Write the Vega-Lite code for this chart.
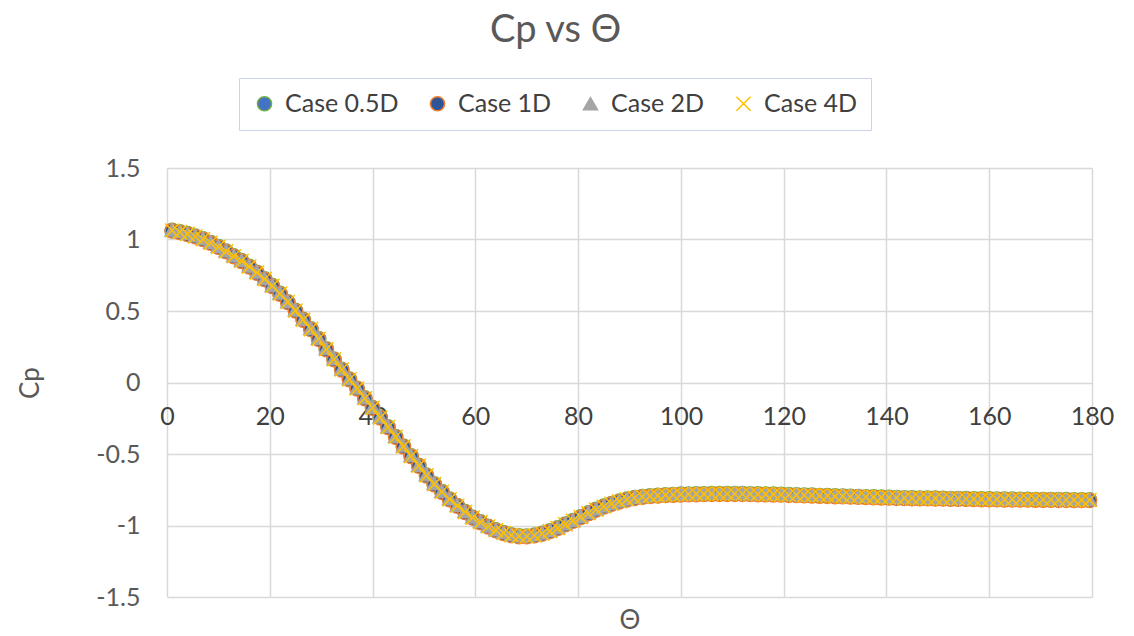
{
  "$schema": "https://vega.github.io/schema/vega-lite/v6.json",
  "width": 925,
  "height": 429,
  "autosize": "none",
  "padding": {"left": 167, "top": 168, "right": 42, "bottom": 39},
  "background": "white",
  "title": {"text": "Cp vs Θ", "fontSize": 38, "font": "Lato", "fontWeight": "normal", "color": "#595959", "anchor": "middle", "frame": "group", "dx": -74, "offset": -2, "baseline": "alphabetic"},
  "data": {"values": [
    {"t":1,"a":1.065,"b":1.06,"c":1.068,"d":1.063},
    {"t":2.5,"a":1.054,"b":1.049,"c":1.057,"d":1.052},
    {"t":4,"a":1.041,"b":1.036,"c":1.044,"d":1.039},
    {"t":5.5,"a":1.024,"b":1.019,"c":1.027,"d":1.022},
    {"t":7,"a":1.005,"b":1.0,"c":1.008,"d":1.003},
    {"t":8.5,"a":0.979,"b":0.974,"c":0.982,"d":0.977},
    {"t":10,"a":0.951,"b":0.946,"c":0.954,"d":0.949},
    {"t":11.5,"a":0.919,"b":0.914,"c":0.922,"d":0.917},
    {"t":13,"a":0.885,"b":0.88,"c":0.888,"d":0.883},
    {"t":14.5,"a":0.852,"b":0.847,"c":0.855,"d":0.85},
    {"t":16,"a":0.813,"b":0.808,"c":0.816,"d":0.811},
    {"t":17.5,"a":0.77,"b":0.765,"c":0.773,"d":0.768},
    {"t":19,"a":0.725,"b":0.72,"c":0.728,"d":0.723},
    {"t":20.5,"a":0.677,"b":0.672,"c":0.68,"d":0.675},
    {"t":22,"a":0.623,"b":0.618,"c":0.626,"d":0.621},
    {"t":23.5,"a":0.565,"b":0.56,"c":0.568,"d":0.563},
    {"t":25,"a":0.505,"b":0.5,"c":0.508,"d":0.503},
    {"t":26.5,"a":0.441,"b":0.436,"c":0.444,"d":0.439},
    {"t":28,"a":0.375,"b":0.37,"c":0.378,"d":0.373},
    {"t":29.5,"a":0.307,"b":0.302,"c":0.31,"d":0.305},
    {"t":31,"a":0.235,"b":0.23,"c":0.238,"d":0.233},
    {"t":32.5,"a":0.164,"b":0.159,"c":0.167,"d":0.162},
    {"t":34,"a":0.093,"b":0.088,"c":0.096,"d":0.091},
    {"t":35.5,"a":0.024,"b":0.019,"c":0.027,"d":0.022},
    {"t":37,"a":-0.04,"b":-0.045,"c":-0.037,"d":-0.042},
    {"t":38.5,"a":-0.108,"b":-0.113,"c":-0.105,"d":-0.11},
    {"t":40,"a":-0.175,"b":-0.18,"c":-0.172,"d":-0.177},
    {"t":41.5,"a":-0.243,"b":-0.248,"c":-0.24,"d":-0.245},
    {"t":43,"a":-0.31,"b":-0.315,"c":-0.307,"d":-0.312},
    {"t":44.5,"a":-0.378,"b":-0.383,"c":-0.375,"d":-0.38},
    {"t":46,"a":-0.445,"b":-0.45,"c":-0.442,"d":-0.447},
    {"t":47.5,"a":-0.513,"b":-0.518,"c":-0.51,"d":-0.515},
    {"t":49,"a":-0.58,"b":-0.585,"c":-0.577,"d":-0.582},
    {"t":50.5,"a":-0.648,"b":-0.653,"c":-0.645,"d":-0.65},
    {"t":52,"a":-0.709,"b":-0.714,"c":-0.706,"d":-0.711},
    {"t":53.5,"a":-0.763,"b":-0.768,"c":-0.76,"d":-0.765},
    {"t":55,"a":-0.815,"b":-0.82,"c":-0.812,"d":-0.817},
    {"t":56.5,"a":-0.86,"b":-0.865,"c":-0.857,"d":-0.862},
    {"t":58,"a":-0.903,"b":-0.908,"c":-0.9,"d":-0.905},
    {"t":59.5,"a":-0.943,"b":-0.948,"c":-0.94,"d":-0.945},
    {"t":61,"a":-0.975,"b":-0.98,"c":-0.972,"d":-0.977},
    {"t":62.5,"a":-1.005,"b":-1.01,"c":-1.002,"d":-1.007},
    {"t":64,"a":-1.031,"b":-1.036,"c":-1.028,"d":-1.033},
    {"t":65.5,"a":-1.05,"b":-1.055,"c":-1.047,"d":-1.052},
    {"t":67,"a":-1.065,"b":-1.07,"c":-1.062,"d":-1.067},
    {"t":68.5,"a":-1.073,"b":-1.078,"c":-1.07,"d":-1.075},
    {"t":70,"a":-1.074,"b":-1.079,"c":-1.071,"d":-1.076},
    {"t":71.5,"a":-1.067,"b":-1.072,"c":-1.064,"d":-1.069},
    {"t":73,"a":-1.055,"b":-1.06,"c":-1.052,"d":-1.057},
    {"t":74.5,"a":-1.037,"b":-1.042,"c":-1.034,"d":-1.039},
    {"t":76,"a":-1.016,"b":-1.021,"c":-1.013,"d":-1.018},
    {"t":77.5,"a":-0.99,"b":-0.995,"c":-0.987,"d":-0.992},
    {"t":79,"a":-0.965,"b":-0.97,"c":-0.962,"d":-0.967},
    {"t":80.5,"a":-0.939,"b":-0.944,"c":-0.936,"d":-0.941},
    {"t":82,"a":-0.912,"b":-0.917,"c":-0.909,"d":-0.914},
    {"t":83.5,"a":-0.887,"b":-0.892,"c":-0.884,"d":-0.889},
    {"t":85,"a":-0.865,"b":-0.87,"c":-0.862,"d":-0.867},
    {"t":86.5,"a":-0.846,"b":-0.851,"c":-0.843,"d":-0.848},
    {"t":88,"a":-0.83,"b":-0.835,"c":-0.827,"d":-0.832},
    {"t":89.5,"a":-0.816,"b":-0.821,"c":-0.813,"d":-0.818},
    {"t":91,"a":-0.805,"b":-0.81,"c":-0.802,"d":-0.807},
    {"t":92.5,"a":-0.797,"b":-0.802,"c":-0.794,"d":-0.799},
    {"t":94,"a":-0.792,"b":-0.797,"c":-0.789,"d":-0.794},
    {"t":95.5,"a":-0.789,"b":-0.794,"c":-0.786,"d":-0.791},
    {"t":97,"a":-0.785,"b":-0.79,"c":-0.782,"d":-0.787},
    {"t":98.5,"a":-0.783,"b":-0.788,"c":-0.78,"d":-0.785},
    {"t":100,"a":-0.781,"b":-0.786,"c":-0.778,"d":-0.783},
    {"t":101.5,"a":-0.78,"b":-0.785,"c":-0.777,"d":-0.782},
    {"t":103,"a":-0.779,"b":-0.784,"c":-0.776,"d":-0.781},
    {"t":104.5,"a":-0.778,"b":-0.783,"c":-0.775,"d":-0.78},
    {"t":106,"a":-0.777,"b":-0.782,"c":-0.774,"d":-0.779},
    {"t":107.5,"a":-0.777,"b":-0.782,"c":-0.774,"d":-0.779},
    {"t":109,"a":-0.777,"b":-0.782,"c":-0.774,"d":-0.779},
    {"t":110.5,"a":-0.777,"b":-0.782,"c":-0.774,"d":-0.779},
    {"t":112,"a":-0.777,"b":-0.782,"c":-0.774,"d":-0.779},
    {"t":113.5,"a":-0.778,"b":-0.783,"c":-0.775,"d":-0.78},
    {"t":115,"a":-0.779,"b":-0.784,"c":-0.776,"d":-0.781},
    {"t":116.5,"a":-0.78,"b":-0.785,"c":-0.777,"d":-0.782},
    {"t":118,"a":-0.781,"b":-0.786,"c":-0.778,"d":-0.783},
    {"t":119.5,"a":-0.782,"b":-0.787,"c":-0.779,"d":-0.784},
    {"t":121,"a":-0.784,"b":-0.789,"c":-0.781,"d":-0.786},
    {"t":122.5,"a":-0.785,"b":-0.79,"c":-0.782,"d":-0.787},
    {"t":124,"a":-0.787,"b":-0.792,"c":-0.784,"d":-0.789},
    {"t":125.5,"a":-0.788,"b":-0.793,"c":-0.785,"d":-0.79},
    {"t":127,"a":-0.79,"b":-0.795,"c":-0.787,"d":-0.792},
    {"t":128.5,"a":-0.791,"b":-0.796,"c":-0.788,"d":-0.793},
    {"t":130,"a":-0.793,"b":-0.798,"c":-0.79,"d":-0.795},
    {"t":131.5,"a":-0.794,"b":-0.799,"c":-0.791,"d":-0.796},
    {"t":133,"a":-0.796,"b":-0.801,"c":-0.793,"d":-0.798},
    {"t":134.5,"a":-0.797,"b":-0.802,"c":-0.794,"d":-0.799},
    {"t":136,"a":-0.799,"b":-0.804,"c":-0.796,"d":-0.801},
    {"t":137.5,"a":-0.8,"b":-0.805,"c":-0.797,"d":-0.802},
    {"t":139,"a":-0.802,"b":-0.807,"c":-0.799,"d":-0.804},
    {"t":140.5,"a":-0.803,"b":-0.808,"c":-0.8,"d":-0.805},
    {"t":142,"a":-0.805,"b":-0.81,"c":-0.802,"d":-0.807},
    {"t":143.5,"a":-0.806,"b":-0.811,"c":-0.803,"d":-0.808},
    {"t":145,"a":-0.807,"b":-0.812,"c":-0.804,"d":-0.809},
    {"t":146.5,"a":-0.808,"b":-0.813,"c":-0.805,"d":-0.81},
    {"t":148,"a":-0.808,"b":-0.813,"c":-0.805,"d":-0.81},
    {"t":149.5,"a":-0.809,"b":-0.814,"c":-0.806,"d":-0.811},
    {"t":151,"a":-0.81,"b":-0.815,"c":-0.807,"d":-0.812},
    {"t":152.5,"a":-0.811,"b":-0.816,"c":-0.808,"d":-0.813},
    {"t":154,"a":-0.811,"b":-0.816,"c":-0.808,"d":-0.813},
    {"t":155.5,"a":-0.812,"b":-0.817,"c":-0.809,"d":-0.814},
    {"t":157,"a":-0.813,"b":-0.818,"c":-0.81,"d":-0.815},
    {"t":158.5,"a":-0.814,"b":-0.819,"c":-0.811,"d":-0.816},
    {"t":160,"a":-0.814,"b":-0.819,"c":-0.811,"d":-0.816},
    {"t":161.5,"a":-0.815,"b":-0.82,"c":-0.812,"d":-0.817},
    {"t":163,"a":-0.816,"b":-0.821,"c":-0.813,"d":-0.818},
    {"t":164.5,"a":-0.816,"b":-0.821,"c":-0.813,"d":-0.818},
    {"t":166,"a":-0.817,"b":-0.822,"c":-0.814,"d":-0.819},
    {"t":167.5,"a":-0.817,"b":-0.822,"c":-0.814,"d":-0.819},
    {"t":169,"a":-0.818,"b":-0.823,"c":-0.815,"d":-0.82},
    {"t":170.5,"a":-0.818,"b":-0.823,"c":-0.815,"d":-0.82},
    {"t":172,"a":-0.818,"b":-0.823,"c":-0.815,"d":-0.82},
    {"t":173.5,"a":-0.819,"b":-0.824,"c":-0.816,"d":-0.821},
    {"t":175,"a":-0.819,"b":-0.824,"c":-0.816,"d":-0.821},
    {"t":176.5,"a":-0.82,"b":-0.825,"c":-0.817,"d":-0.822},
    {"t":178,"a":-0.82,"b":-0.825,"c":-0.817,"d":-0.822},
    {"t":179.5,"a":-0.82,"b":-0.825,"c":-0.817,"d":-0.822}
  ]},
  "transform": [{"fold": ["a", "b", "c", "d"], "as": ["series", "Cp"]}],
  "mark": {"type": "point", "filled": false, "strokeWidth": 1.5, "opacity": 1},
  "encoding": {
    "x": {
      "field": "t", "type": "quantitative",
      "scale": {"domain": [0, 180], "nice": false, "zero": false},
      "axis": {
        "values": [0, 20, 40, 60, 80, 100, 120, 140, 160, 180],
        "labelExpr": "'' + datum.value",
        "offset": -215,
        "domain": false, "ticks": false,
        "labelPadding": 22,
        "labelFontSize": 25, "labelFont": "Lato", "labelColor": "#404040",
        "labelFlush": false,
        "gridColor": "#d9d9d9", "gridWidth": 1.5,
        "title": "Θ", "titleFontSize": 26, "titleFont": "Lato", "titleFontWeight": "normal", "titleColor": "#595959",
        "titleY": 238, "titleBaseline": "middle"
      }
    },
    "y": {
      "field": "Cp", "type": "quantitative",
      "scale": {"domain": [-1.5, 1.5], "nice": false, "zero": false},
      "axis": {
        "values": [-1.5, -1, -0.5, 0, 0.5, 1, 1.5],
        "labelExpr": "'' + datum.value",
        "domain": false, "ticks": false,
        "labelPadding": 27,
        "labelFontSize": 25, "labelFont": "Lato", "labelColor": "#595959",
        "labelFlush": false,
        "gridColor": "#d9d9d9", "gridWidth": 1.5,
        "title": "Cp", "titleFontSize": 26, "titleFont": "Lato", "titleFontWeight": "normal", "titleColor": "#595959",
        "titleX": -137, "titleY": 214.5, "titleAlign": "center", "titleBaseline": "middle", "titleAngle": -90
      }
    },
    "fill": {
      "field": "series", "type": "nominal",
      "scale": {"domain": ["a", "b", "c", "d"], "range": ["#4472C4", "#2F5597", "#A5A5A5", "transparent"]},
      "legend": {
        "title": null,
        "orient": "none", "legendX": 72, "legendY": -90,
        "direction": "horizontal",
        "labelExpr": "{'a':'Case 0.5D','b':'Case 1D','c':'Case 2D','d':'Case 4D'}[datum.label]",
        "labelFontSize": 25, "labelFont": "Lato", "labelColor": "#404040",
        "labelOffset": 8,
        "columnPadding": 26,
        "padding": 13,
        "strokeColor": "#c9d4ea",
        "fillColor": "white",
        "symbolStrokeWidth": 1.5
      }
    },
    "stroke": {
      "field": "series", "type": "nominal",
      "scale": {"domain": ["a", "b", "c", "d"], "range": ["#70AD47", "#ED7D31", "#A5A5A5", "#FFC000"]}
    },
    "shape": {
      "field": "series", "type": "nominal",
      "scale": {"domain": ["a", "b", "c", "d"], "range": ["circle", "circle", "triangle-up", "M-1,-1L1,1M1,-1L-1,1"]}
    },
    "size": {
      "field": "series", "type": "nominal",
      "scale": {"domain": ["a", "b", "c", "d"], "range": [200, 200, 45, 45]}
    },
    "order": {"field": "series", "type": "nominal", "sort": "ascending"}
  },
  "config": {"view": {"stroke": null}}
}
